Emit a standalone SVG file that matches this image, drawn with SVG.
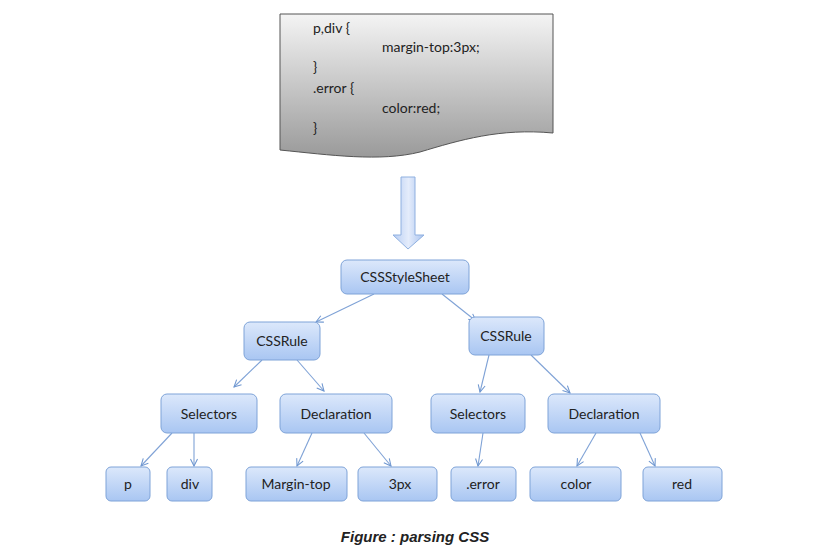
<svg xmlns="http://www.w3.org/2000/svg" width="830" height="560" viewBox="0 0 830 560">
<defs>
<linearGradient id="nb" x1="0" y1="0" x2="0" y2="1"><stop offset="0" stop-color="#dce8fb"/><stop offset="1" stop-color="#a9c6f2"/></linearGradient>
<linearGradient id="doc" x1="0" y1="0" x2="0" y2="1"><stop offset="0" stop-color="#f4f4f4"/><stop offset="1" stop-color="#9a9a9a"/></linearGradient>
<linearGradient id="ar" x1="0" y1="0" x2="1" y2="0"><stop offset="0" stop-color="#b7cdf3"/><stop offset="0.5" stop-color="#e4ecfb"/><stop offset="1" stop-color="#a9c3ef"/></linearGradient>
<marker id="m" viewBox="0 0 10 10" refX="9" refY="5" markerWidth="8" markerHeight="8" orient="auto"><path d="M1,1 L9,5 L1,9" fill="none" stroke="#6f97d0" stroke-width="1.2"/></marker>
</defs>
<style>
.n rect{fill:url(#nb);stroke:#7ea3d8;stroke-width:1}
.n text,.d text{font-family:Lato,"Open Sans",sans-serif;font-size:14px;fill:#222}
.n text{text-anchor:middle}
#conn line{stroke:#7fa2d6;stroke-width:1.1;marker-end:url(#m)}
</style>
<rect width="830" height="560" fill="#fff"/>
<g id="doc" class="d">
<path d="M280,14 H553 V133 C500,128 460,140 420,152 C380,162 330,155 280,150 Z" fill="url(#doc)" stroke="#555" stroke-width="1"/>
<text x="313" y="33">p,div {</text>
<text x="382" y="52">margin-top:3px;</text>
<text x="313" y="72">}</text>
<text x="313" y="93">.error {</text>
<text x="382" y="113">color:red;</text>
<text x="313" y="133">}</text>
</g>
<g id="bigarrow"><path d="M401,177 H415 V235 H424 L408,249 L393,235 H401 Z" fill="url(#ar)" stroke="#8fb0e0"/></g>
<g id="conn">
<line x1="374" y1="294" x2="316" y2="322"/>
<line x1="442" y1="294" x2="476" y2="321"/>
<line x1="262" y1="360" x2="234" y2="387"/>
<line x1="297" y1="360" x2="324" y2="391"/>
<line x1="489" y1="355" x2="480" y2="392"/>
<line x1="531" y1="355" x2="570" y2="393"/>
<line x1="172" y1="433" x2="141" y2="466"/>
<line x1="194" y1="433" x2="194" y2="466"/>
<line x1="312" y1="433" x2="297" y2="466"/>
<line x1="364" y1="433" x2="391" y2="466"/>
<line x1="483" y1="433" x2="478" y2="466"/>
<line x1="596" y1="433" x2="577" y2="466"/>
<line x1="640" y1="433" x2="655" y2="466"/>
</g>
<g id="n-sheet" class="n"><rect x="341" y="260" width="128" height="34" rx="6"/><text x="405" y="282">CSSStyleSheet</text></g>
<g id="n-rule1" class="n"><rect x="244" y="322" width="76" height="38" rx="6"/><text x="282" y="346">CSSRule</text></g>
<g id="n-rule2" class="n"><rect x="469" y="317" width="75" height="38" rx="6"/><text x="506" y="341">CSSRule</text></g>
<g id="n-sel1" class="n"><rect x="161" y="394" width="96" height="39" rx="6"/><text x="209" y="419">Selectors</text></g>
<g id="n-dec1" class="n"><rect x="280" y="394" width="112" height="39" rx="6"/><text x="336" y="419">Declaration</text></g>
<g id="n-sel2" class="n"><rect x="431" y="394" width="94" height="39" rx="6"/><text x="478" y="419">Selectors</text></g>
<g id="n-dec2" class="n"><rect x="548" y="394" width="112" height="39" rx="6"/><text x="604" y="419">Declaration</text></g>
<g id="n-p" class="n"><rect x="106" y="467" width="44" height="34" rx="5"/><text x="128" y="489">p</text></g>
<g id="n-div" class="n"><rect x="167" y="467" width="45" height="34" rx="5"/><text x="190" y="489">div</text></g>
<g id="n-mt" class="n"><rect x="246" y="467" width="101" height="34" rx="5"/><text x="296" y="489">Margin-top</text></g>
<g id="n-3px" class="n"><rect x="358" y="467" width="79" height="34" rx="5"/><text x="400" y="489">3px</text></g>
<g id="n-err" class="n"><rect x="451" y="467" width="65" height="34" rx="5"/><text x="483" y="489">.error</text></g>
<g id="n-color" class="n"><rect x="530" y="467" width="91" height="34" rx="5"/><text x="576" y="489">color</text></g>
<g id="n-red" class="n"><rect x="643" y="467" width="79" height="34" rx="5"/><text x="682" y="489">red</text></g>
<text x="415" y="542" text-anchor="middle" font-family="Liberation Sans,Arial,sans-serif" font-size="15" font-weight="bold" font-style="italic" fill="#222">Figure : parsing CSS</text>
</svg>
